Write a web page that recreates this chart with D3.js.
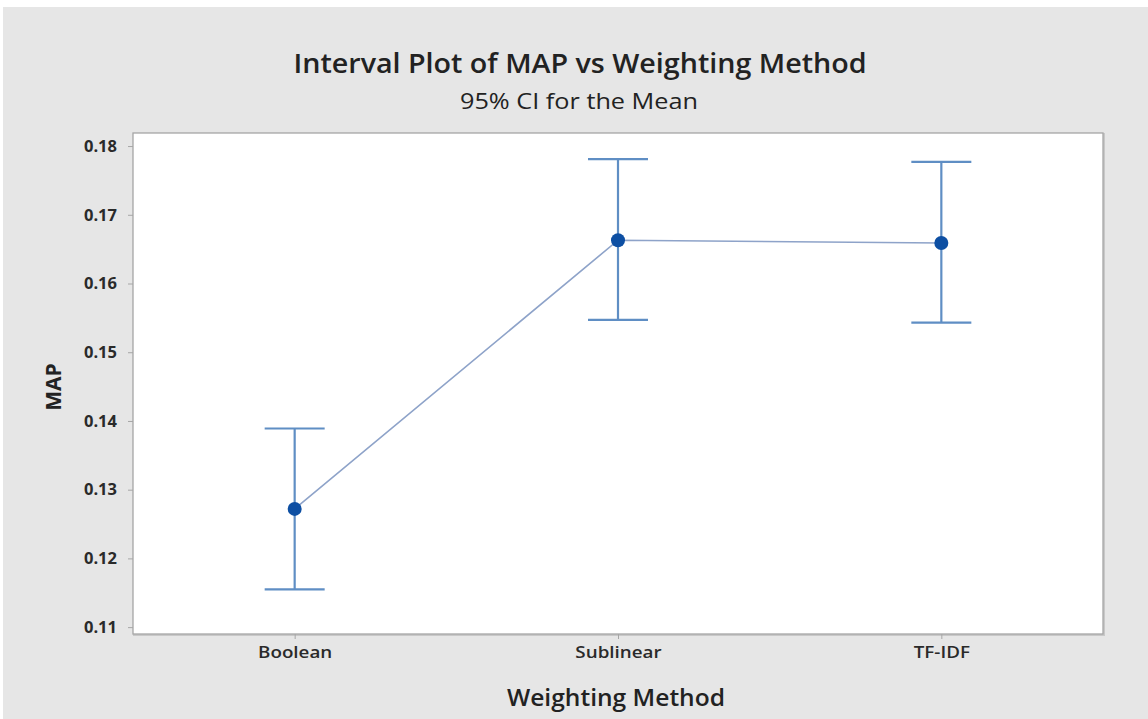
<!DOCTYPE html>
<html><head><meta charset="utf-8">
<script src="https://cdn.jsdelivr.net/npm/d3@7"></script>
<style>body{margin:0;background:#fff;}svg{display:block;}text{font-family:"Open Sans","Noto Sans",sans-serif;}</style>
</head><body>
<svg id="c" width="1148" height="719"></svg>
<script>
const categories = ["Boolean", "Sublinear", "TF-IDF"];
const means = [0.1272, 0.1663, 0.1659];
const lowers = [0.1155, 0.1547, 0.1543];
const uppers = [0.1389, 0.1781, 0.1777];
const yTicks = [0.11, 0.12, 0.13, 0.14, 0.15, 0.16, 0.17, 0.18];
const title = "Interval Plot of MAP vs Weighting Method";
const subtitle = "95% CI for the Mean";
const xTitle = "Weighting Method";
const yTitle = "MAP";

const W = 1148, H = 719;
const L = 133, R = 1103, T = 133, B = 634;
const svg = d3.select("#c");
svg.append("rect").attr("x",3).attr("y",7).attr("width",W-3).attr("height",H-7).attr("fill","#e6e6e6");

const x = d3.scalePoint().domain(categories).range([L, R]).padding(0.5);
const y = d3.scaleLinear().domain([0.1090, 0.1819]).range([B, T]);

// plot box shadow + box
svg.append("rect").attr("x",L+1).attr("y",T+1).attr("width",R-L).attr("height",B-T).attr("fill","none").attr("stroke","#c8c8c8").attr("stroke-width",2);
svg.append("rect").attr("x",L).attr("y",T).attr("width",R-L).attr("height",B-T).attr("fill","#ffffff").attr("stroke","#a6a6a6").attr("stroke-width",1.3);

// axes
const yAxis = d3.axisLeft(y).tickValues(yTicks).tickFormat(d3.format(".2f")).tickSize(5).tickPadding(11);
const gy = svg.append("g").attr("transform",`translate(${L},0)`).call(yAxis);
gy.select(".domain").remove();
gy.selectAll(".tick line").attr("stroke","#a6a6a6");
gy.selectAll(".tick text").attr("fill","#2a2a2a").attr("font-size",16.5).attr("font-weight","bold").style("font-family","'Open Sans',sans-serif");

const xAxis = d3.axisBottom(x).tickSize(5).tickPadding(7);
const gx = svg.append("g").attr("transform",`translate(0,${B})`).call(xAxis);
gx.select(".domain").remove();
gx.selectAll(".tick line").attr("stroke","#a6a6a6");
gx.selectAll(".tick text").attr("fill","#2a2a2a").attr("font-size",16.5).attr("font-weight",600).style("font-family","'Open Sans',sans-serif")
  .each(function(){ const w=this.getComputedTextLength(); d3.select(this).attr("textLength", w*1.14).attr("lengthAdjust","spacingAndGlyphs"); });

// connect line
const pts = categories.map((c,i)=>({c, m:means[i], lo:lowers[i], hi:uppers[i]}));
svg.append("path").datum(pts)
  .attr("d", d3.line().x(d=>x(d.c)).y(d=>y(d.m)))
  .attr("fill","none").attr("stroke","#8ea3c9").attr("stroke-width",1.6);

// error bars
const eb = svg.append("g").attr("stroke","#5f8ec4").attr("stroke-width",2.2);
const capW = 30;
pts.forEach(d=>{
  eb.append("line").attr("x1",x(d.c)).attr("x2",x(d.c)).attr("y1",y(d.lo)).attr("y2",y(d.hi));
  eb.append("line").attr("x1",x(d.c)-capW).attr("x2",x(d.c)+capW).attr("y1",y(d.lo)).attr("y2",y(d.lo));
  eb.append("line").attr("x1",x(d.c)-capW).attr("x2",x(d.c)+capW).attr("y1",y(d.hi)).attr("y2",y(d.hi));
});
svg.append("g").selectAll("circle").data(pts).join("circle")
  .attr("cx",d=>x(d.c)).attr("cy",d=>y(d.m)).attr("r",7).attr("fill","#0d4fa3");

// titles
svg.append("text").attr("x",580).attr("y",73).attr("text-anchor","middle").attr("font-size",27).attr("font-weight",600).attr("fill","#222")
  .attr("textLength",573).attr("lengthAdjust","spacingAndGlyphs").text(title);
svg.append("text").attr("x",579).attr("y",109).attr("text-anchor","middle").attr("font-size",21).attr("font-weight",500).attr("fill","#222")
  .attr("textLength",238).attr("lengthAdjust","spacingAndGlyphs").text(subtitle);
svg.append("text").attr("x",616).attr("y",706).attr("text-anchor","middle").attr("font-size",23).attr("font-weight",600).attr("fill","#222")
  .attr("textLength",218).attr("lengthAdjust","spacingAndGlyphs").text(xTitle);
svg.append("text").attr("transform","translate(61,387) rotate(-90)").attr("text-anchor","middle").attr("font-size",21).attr("font-weight","bold").attr("fill","#222").text(yTitle);
</script>
</body></html>
